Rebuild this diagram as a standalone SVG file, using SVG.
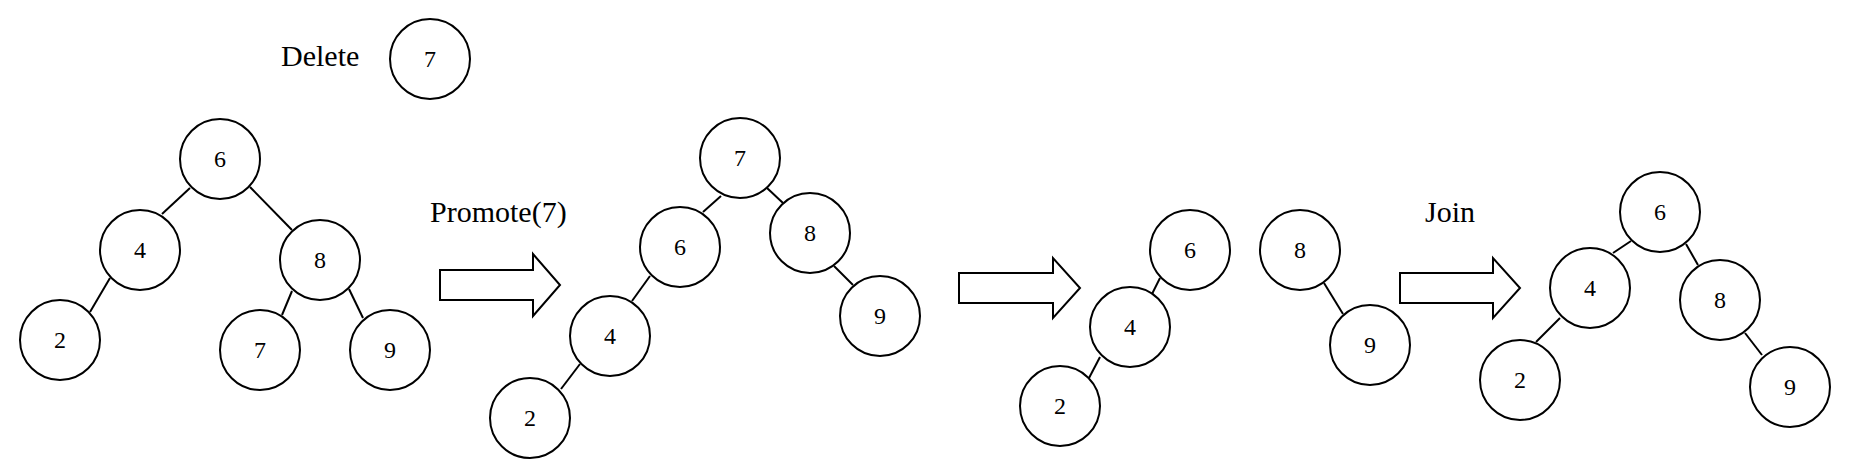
<svg xmlns="http://www.w3.org/2000/svg" width="1869" height="476" viewBox="0 0 1869 476">
<style>
.n circle{fill:#fff;stroke:#000;stroke-width:2}
.n text{font-family:"Liberation Serif","Times New Roman",serif;font-size:24px;text-anchor:middle;fill:#000}
.lbl{font-family:"Liberation Serif","Times New Roman",serif;font-size:30px;fill:#000}
#edges line{stroke:#000;stroke-width:2}
.arr{fill:#fff;stroke:#000;stroke-width:2;stroke-linejoin:miter}
</style>
<rect width="1869" height="476" fill="#fff"/>
<text class="lbl" x="281" y="66">Delete</text>
<text class="lbl" x="430" y="222">Promote(7)</text>
<text class="lbl" x="1425" y="222">Join</text>
<g id="arrows">
<polygon class="arr" points="440,270 533,270 533,254 560,285 533,316 533,300 440,300"/>
<polygon class="arr" points="959,273 1053,273 1053,258 1080,288 1053,318 1053,303 959,303"/>
<polygon class="arr" points="1400,273 1493,273 1493,258 1520,288 1493,318 1493,303 1400,303"/>
</g>
<g id="edges">
<line x1="190" y1="188" x2="162" y2="214"/>
<line x1="250" y1="187" x2="292" y2="230"/>
<line x1="110" y1="278" x2="90" y2="312"/>
<line x1="292" y1="291" x2="282" y2="315"/>
<line x1="349" y1="289" x2="363" y2="318"/>
<line x1="721" y1="196" x2="703" y2="212"/>
<line x1="767" y1="188" x2="783" y2="203"/>
<line x1="650" y1="276" x2="632" y2="301"/>
<line x1="580" y1="364" x2="561" y2="389"/>
<line x1="834" y1="266" x2="853" y2="285"/>
<line x1="1160" y1="278" x2="1152" y2="294"/>
<line x1="1100" y1="357" x2="1089" y2="378"/>
<line x1="1324" y1="283" x2="1343" y2="314"/>
<line x1="1631" y1="241" x2="1613" y2="253"/>
<line x1="1686" y1="244" x2="1698" y2="265"/>
<line x1="1560" y1="318" x2="1536" y2="342"/>
<line x1="1745" y1="333" x2="1762" y2="355"/>
</g>
<g id="del7" class="n"><circle cx="430" cy="59" r="40"/><text x="430" y="67">7</text></g>
<g id="t1n6" class="n"><circle cx="220" cy="159" r="40"/><text x="220" y="167">6</text></g>
<g id="t1n4" class="n"><circle cx="140" cy="250" r="40"/><text x="140" y="258">4</text></g>
<g id="t1n8" class="n"><circle cx="320" cy="260" r="40"/><text x="320" y="268">8</text></g>
<g id="t1n2" class="n"><circle cx="60" cy="340" r="40"/><text x="60" y="348">2</text></g>
<g id="t1n7" class="n"><circle cx="260" cy="350" r="40"/><text x="260" y="358">7</text></g>
<g id="t1n9" class="n"><circle cx="390" cy="350" r="40"/><text x="390" y="358">9</text></g>
<g id="t2n7" class="n"><circle cx="740" cy="158" r="40"/><text x="740" y="166">7</text></g>
<g id="t2n6" class="n"><circle cx="680" cy="247" r="40"/><text x="680" y="255">6</text></g>
<g id="t2n8" class="n"><circle cx="810" cy="233" r="40"/><text x="810" y="241">8</text></g>
<g id="t2n9" class="n"><circle cx="880" cy="316" r="40"/><text x="880" y="324">9</text></g>
<g id="t2n4" class="n"><circle cx="610" cy="336" r="40"/><text x="610" y="344">4</text></g>
<g id="t2n2" class="n"><circle cx="530" cy="418" r="40"/><text x="530" y="426">2</text></g>
<g id="t3n6" class="n"><circle cx="1190" cy="250" r="40"/><text x="1190" y="258">6</text></g>
<g id="t3n4" class="n"><circle cx="1130" cy="327" r="40"/><text x="1130" y="335">4</text></g>
<g id="t3n2" class="n"><circle cx="1060" cy="406" r="40"/><text x="1060" y="414">2</text></g>
<g id="t3n8" class="n"><circle cx="1300" cy="250" r="40"/><text x="1300" y="258">8</text></g>
<g id="t3n9" class="n"><circle cx="1370" cy="345" r="40"/><text x="1370" y="353">9</text></g>
<g id="t4n6" class="n"><circle cx="1660" cy="212" r="40"/><text x="1660" y="220">6</text></g>
<g id="t4n4" class="n"><circle cx="1590" cy="288" r="40"/><text x="1590" y="296">4</text></g>
<g id="t4n8" class="n"><circle cx="1720" cy="300" r="40"/><text x="1720" y="308">8</text></g>
<g id="t4n2" class="n"><circle cx="1520" cy="380" r="40"/><text x="1520" y="388">2</text></g>
<g id="t4n9" class="n"><circle cx="1790" cy="387" r="40"/><text x="1790" y="395">9</text></g>
</svg>
